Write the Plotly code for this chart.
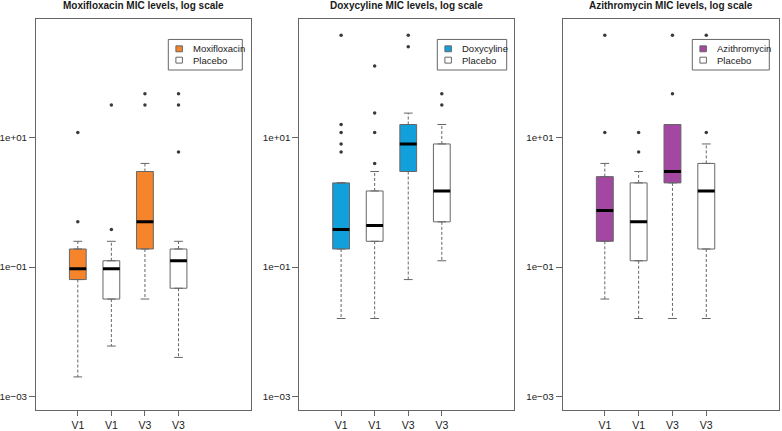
import plotly.graph_objects as go

W, H = 782, 431

# ---------------- data (MIC values) ----------------
visits = ["V1", "V1", "V3", "V3"]
positions = [1, 2, 3, 4]          # drug V1, placebo V1, drug V3, placebo V3

titles = ["Moxifloxacin MIC levels, log scale",
          "Doxycyline MIC levels, log scale",
          "Azithromycin MIC levels, log scale"]
drug_names = ["Moxifloxacin", "Doxycyline", "Azithromycin"]
drug_colors = ["#F5842B", "#12A0DD", "#A347A2"]

moxi_lo = [0.002, 0.006, 0.032, 0.004]
moxi_q1 = [0.064, 0.032, 0.19, 0.047]
moxi_med = [0.094, 0.094, 0.5, 0.125]
moxi_q3 = [0.19, 0.125, 3, 0.19]
moxi_hi = [0.25, 0.25, 4, 0.25]
moxi_out = [[0.5, 12], [0.38, 32], [32, 48], [6, 32, 48]]

doxy_lo = [0.016, 0.016, 0.064, 0.125]
doxy_q1 = [0.19, 0.25, 3, 0.5]
doxy_med = [0.38, 0.44, 8, 1.5]
doxy_q3 = [2, 1.5, 16, 8]
doxy_hi = [2, 3, 24, 16]
doxy_out = [[6, 8, 12, 16, 384], [4, 12, 24, 128], [256, 384], [32, 48]]

azi_lo = [0.032, 0.016, 0.016, 0.016]
azi_q1 = [0.25, 0.125, 2, 0.19]
azi_med = [0.75, 0.5, 3, 1.5]
azi_q3 = [2.5, 2, 16, 4]
azi_hi = [4, 3, 16, 8]
azi_out = [[12, 384], [6, 12], [48, 384], [12, 384]]

stats = [
    (moxi_lo, moxi_q1, moxi_med, moxi_q3, moxi_hi, moxi_out),
    (doxy_lo, doxy_q1, doxy_med, doxy_q3, doxy_hi, doxy_out),
    (azi_lo, azi_q1, azi_med, azi_q3, azi_hi, azi_out),
]

# ---------------- layout geometry (pixels) ----------------
panel_px = [(36.0, 250.7), (299.3, 514.0), (562.7, 779.0)]
top_px, bot_px = 19.3, 416.0
legend_px = [(168.3, 242.3), (437.3, 506.7), (692.3, 769.3)]
leg_top, leg_bot = 40.0, 71.0

GRAY = "#666666"
TXT = "#1a1a1a"
FONT = "Liberation Sans, Arial, Helvetica, sans-serif"
BOXW = 0.5
STAPLE = 0.13

fig = go.Figure()

shapes = []
annotations = []

for i in range(3):
    lo, q1, med, q3, hi, outs = stats[i]
    xa = "x" if i == 0 else f"x{i+1}"
    ya = "y" if i == 0 else f"y{i+1}"

    # boxes: drug (positions 1,3) and placebo (positions 2,4)
    for idxs, fill in (([0, 2], drug_colors[i]), ([1, 3], "white")):
        fig.add_trace(go.Box(
            x=[positions[k] for k in idxs],
            q1=[q1[k] for k in idxs],
            median=[med[k] for k in idxs],
            q3=[q3[k] for k in idxs],
            lowerfence=[q1[k] for k in idxs],
            upperfence=[q3[k] for k in idxs],
            width=BOXW, fillcolor=fill,
            line=dict(color=GRAY, width=1),
            boxpoints=False, hoverinfo="skip", showlegend=False,
            xaxis=xa, yaxis=ya))

    # dashed whiskers
    wx, wy = [], []
    for k, p in enumerate(positions):
        wx += [p, p, None, p, p, None]
        wy += [q3[k], hi[k], None, q1[k], lo[k], None]
    fig.add_trace(go.Scatter(x=wx, y=wy, mode="lines",
                             line=dict(color=GRAY, width=1, dash="3px,2px"),
                             hoverinfo="skip", showlegend=False,
                             xaxis=xa, yaxis=ya))
    # staples
    sx, sy = [], []
    for k, p in enumerate(positions):
        sx += [p - STAPLE, p + STAPLE, None, p - STAPLE, p + STAPLE, None]
        sy += [hi[k], hi[k], None, lo[k], lo[k], None]
    fig.add_trace(go.Scatter(x=sx, y=sy, mode="lines",
                             line=dict(color=GRAY, width=1),
                             hoverinfo="skip", showlegend=False,
                             xaxis=xa, yaxis=ya))
    # medians
    mx, my = [], []
    for k, p in enumerate(positions):
        mx += [p - BOXW / 2, p + BOXW / 2, None]
        my += [med[k], med[k], None]
    fig.add_trace(go.Scatter(x=mx, y=my, mode="lines",
                             line=dict(color="black", width=3),
                             hoverinfo="skip", showlegend=False,
                             xaxis=xa, yaxis=ya))
    # outliers
    ox, oy = [], []
    for k, p in enumerate(positions):
        ox += [p] * len(outs[k])
        oy += outs[k]
    fig.add_trace(go.Scatter(x=ox, y=oy, mode="markers",
                             marker=dict(color="#3a3a3a", size=3.5),
                             hoverinfo="skip", showlegend=False,
                             xaxis=xa, yaxis=ya))

    x0, x1 = panel_px[i]
    dom = [x0 / W, x1 / W]
    xkey = "xaxis" if i == 0 else f"xaxis{i+1}"
    ykey = "yaxis" if i == 0 else f"yaxis{i+1}"
    fig.layout[xkey] = dict(
        domain=dom, range=[-0.245, 6.15], tickmode="array",
        tickvals=positions, ticktext=visits, ticks="outside", ticklen=5,
        tickcolor=GRAY, showline=True, mirror=True, linecolor=GRAY,
        linewidth=1, showgrid=False, zeroline=False,
        tickfont=dict(family=FONT, size=10.5, color=TXT),
        anchor=ya)
    fig.layout[ykey] = dict(
        domain=[1 - bot_px / H, 1 - top_px / H], type="log",
        range=[-3.214, 2.835], tickmode="array",
        tickvals=[0.001, 0.1, 10], ticktext=["1e\u221203", "1e\u221201", "1e+01"],
        ticks="outside", ticklen=6, tickcolor=GRAY, showline=True,
        mirror=True, linecolor=GRAY, linewidth=1, showgrid=False,
        zeroline=False, tickfont=dict(family=FONT, size=9.8, color=TXT),
        anchor=xa)

    # title
    annotations.append(dict(
        text=f"<b>{titles[i]}</b>", xref="paper", yref="paper",
        x=(x0 + x1) / 2 / W, y=1 - 5.6 / H, xanchor="center",
        yanchor="middle", showarrow=False,
        font=dict(family=FONT, size=10, color=TXT)))

    # legend (drawn box)
    lx0, lx1 = legend_px[i]
    shapes.append(dict(type="rect", xref="paper", yref="paper",
                       x0=lx0 / W, x1=lx1 / W, y0=1 - leg_bot / H,
                       y1=1 - leg_top / H, line=dict(color=GRAY, width=1),
                       fillcolor="white", layer="above"))
    for j, (name, fill) in enumerate(((drug_names[i], drug_colors[i]),
                                      ("Placebo", "white"))):
        cy = 49.5 + j * 11.5
        sq0 = lx0 + 7.6
        shapes.append(dict(type="rect", xref="paper", yref="paper",
                           x0=sq0 / W, x1=(sq0 + 6.5) / W,
                           y0=1 - (cy + 3) / H, y1=1 - (cy - 3) / H,
                           line=dict(color=GRAY, width=1), fillcolor=fill,
                           layer="above"))
        annotations.append(dict(
            text=name, xref="paper", yref="paper",
            x=(lx0 + 22.3) / W, y=1 - cy / H, xanchor="left",
            yanchor="middle", showarrow=False,
            font=dict(family=FONT, size=9.5, color=TXT)))

fig.update_layout(
    width=W, height=H, margin=dict(l=0, r=0, t=0, b=0),
    paper_bgcolor="white", plot_bgcolor="white",
    boxmode="overlay", showlegend=False,
    shapes=shapes, annotations=annotations)

fig.write_html("out.html",
               config={"displayModeBar": False},
               post_script="document.body.style.margin='0';"
                           "document.body.style.overflow='hidden';")
